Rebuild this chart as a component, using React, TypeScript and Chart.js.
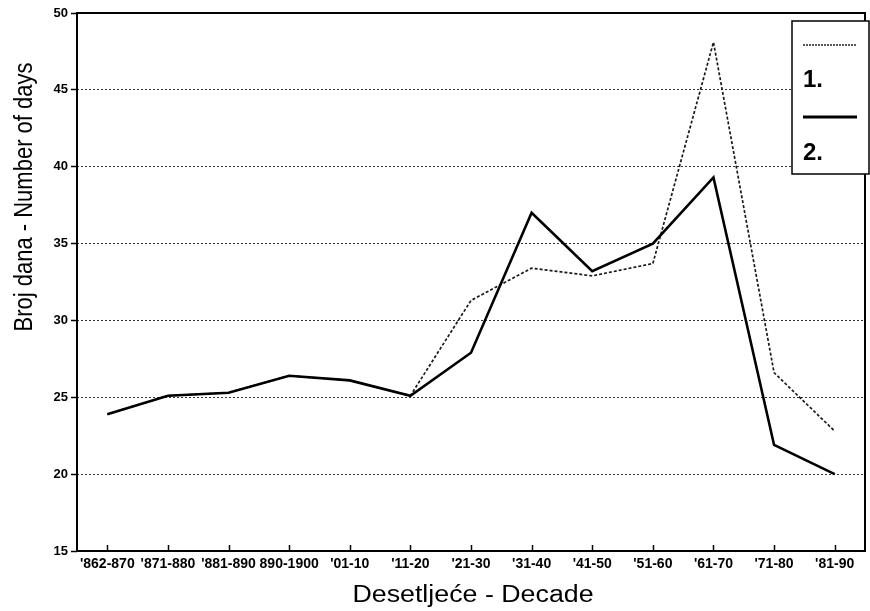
import React, { useEffect, useRef } from 'react';
import { Chart, registerables } from 'chart.js';

Chart.register(...registerables);

const decades = ["'862-870", "'871-880", "'881-890", "890-1900", "'01-10", "'11-20", "'21-30", "'31-40", "'41-50", "'51-60", "'61-70", "'71-80", "'81-90"];
const series1 = [23.9, 25.1, 25.3, 26.4, 26.1, 25.1, 31.3, 33.4, 32.9, 33.7, 48.1, 26.6, 22.8];
const series2 = [23.9, 25.1, 25.3, 26.4, 26.1, 25.1, 27.9, 37.0, 33.2, 35.0, 39.3, 21.9, 20.0];
const yMin = 15;
const yMax = 50;
const yStep = 5;
const legendLabels = ['1.', '2.'];
const yTitle = 'Broj dana - Number of days';
const xTitle = 'Desetljeće - Decade';

const FONT = '"Liberation Sans", Arial, sans-serif';

const framePlugin = {
  id: 'frameAndExtras',
  afterDatasetsDraw(chart: any) {
    const { ctx, chartArea } = chart;
    const { left, right, top, bottom } = chartArea;
    ctx.save();
    ctx.strokeStyle = '#000';
    ctx.lineWidth = 2;
    ctx.setLineDash([]);
    ctx.strokeRect(left, top, right - left, bottom - top);
    // inward x tick marks
    const xs = chart.scales.x;
    ctx.lineWidth = 1.5;
    for (let i = 0; i < xs.ticks.length; i++) {
      const x = Math.round(xs.getPixelForTick(i)) + 0.5;
      ctx.beginPath();
      ctx.moveTo(x, bottom);
      ctx.lineTo(x, bottom - 6);
      ctx.stroke();
    }
    ctx.restore();
  },
  afterDraw(chart: any) {
    const { ctx, chartArea } = chart;
    // y-axis title (slightly widened glyphs, as in the scanned original)
    ctx.save();
    ctx.fillStyle = '#000';
    ctx.font = `22px ${FONT}`;
    ctx.textAlign = 'center';
    ctx.textBaseline = 'alphabetic';
    ctx.translate(32, 197);
    ctx.scale(1.2, 1);
    ctx.rotate(-Math.PI / 2);
    ctx.fillText(yTitle, 0, 0);
    ctx.restore();

    // x-axis title
    ctx.save();
    ctx.fillStyle = '#000';
    ctx.font = `23.5px ${FONT}`;
    ctx.textAlign = 'center';
    ctx.textBaseline = 'alphabetic';
    ctx.translate((chartArea.left + chartArea.right) / 2 + 2, 602);
    ctx.scale(1.14, 1);
    ctx.fillText(xTitle, 0, 0);
    ctx.restore();

    // legend box
    ctx.save();
    const bx = 792, by = 21, bw = 77, bh = 153;
    ctx.fillStyle = '#fff';
    ctx.fillRect(bx, by, bw, bh);
    ctx.strokeStyle = '#000';
    ctx.lineWidth = 1.5;
    ctx.strokeRect(bx, by, bw, bh);
    // series 1 sample
    ctx.strokeStyle = '#222';
    ctx.lineWidth = 1.5;
    ctx.setLineDash([2, 1]);
    ctx.beginPath();
    ctx.moveTo(803, 45);
    ctx.lineTo(856, 45);
    ctx.stroke();
    // series 2 sample
    ctx.setLineDash([]);
    ctx.strokeStyle = '#000';
    ctx.lineWidth = 3;
    ctx.beginPath();
    ctx.moveTo(803, 117);
    ctx.lineTo(857, 117);
    ctx.stroke();
    ctx.fillStyle = '#000';
    ctx.font = `bold 24px ${FONT}`;
    ctx.textAlign = 'left';
    ctx.textBaseline = 'alphabetic';
    ctx.fillText(legendLabels[0], 803, 87);
    ctx.fillText(legendLabels[1], 803, 160);
    ctx.restore();
  },
};

export default function App() {
  const ref = useRef<HTMLCanvasElement | null>(null);

  useEffect(() => {
    if (!ref.current) return;
    const chart = new Chart(ref.current, {
      type: 'line',
      data: {
        labels: decades,
        datasets: [
          {
            label: legendLabels[0],
            data: series1,
            borderColor: '#1a1a1a',
            borderWidth: 1.7,
            borderDash: [3, 2],
            pointRadius: 0,
            tension: 0,
            fill: false,
            order: 1,
          },
          {
            label: legendLabels[1],
            data: series2,
            borderColor: '#000',
            borderWidth: 2.6,
            pointRadius: 0,
            tension: 0,
            fill: false,
            order: 0,
          },
        ],
      },
      options: {
        animation: false,
        responsive: true,
        maintainAspectRatio: false,
        layout: { padding: { top: 13, right: 5, left: 0, bottom: 0 } },
        plugins: {
          legend: { display: false },
          tooltip: { enabled: false },
        },
        scales: {
          x: {
            type: 'category',
            offset: true,
            grid: { display: false, drawTicks: false },
            border: { display: false },
            ticks: {
              autoSkip: false,
              maxRotation: 0,
              minRotation: 0,
              color: '#000',
              padding: 5,
              font: { family: FONT, size: 14, weight: 'bold' },
            },
            title: { display: false, text: xTitle },
            afterFit: (scale: any) => {
              scale.height = 60;
            },
          },
          y: {
            min: yMin,
            max: yMax,
            ticks: {
              stepSize: yStep,
              color: '#000',
              padding: 3,
              font: { family: FONT, size: 13, weight: 'bold' },
            },
            title: { display: false, text: yTitle },
            grid: {
              color: '#333',
              lineWidth: 1,
              tickLength: 6,
              tickColor: '#000',
              tickWidth: 1.5,
              tickBorderDash: [],
            },
            border: { display: false, dash: [2, 2] },
            afterFit: (scale: any) => {
              scale.width = 77;
            },
          },
        },
      },
      plugins: [framePlugin],
    });
    return () => chart.destroy();
  }, []);

  return (
    <div style={{ position: 'absolute', left: 0, top: 0, width: 870, height: 611, background: '#fff' }}>
      <canvas ref={ref} />
    </div>
  );
}
